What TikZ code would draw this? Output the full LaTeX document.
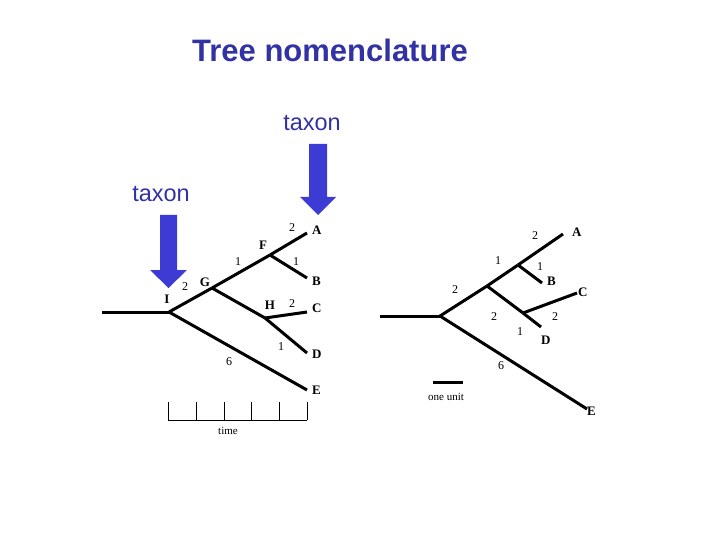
\documentclass[tikz,border=0pt]{standalone}
\usepackage{fontspec}
\setmainfont{Liberation Serif}
\newfontfamily\arialfont{Liberation Sans}
\usepackage{tikz}
\usetikzlibrary{positioning}
\definecolor{titleblue}{RGB}{50,50,165}
\definecolor{arrowblue}{RGB}{60,60,212}
\begin{document}
\begin{tikzpicture}[
    x=1pt, y=-1pt,
    branch/.style={line width=3pt},
    tick/.style={line width=0.8pt},
    leaf/.style={font=\fontsize{13}{15}\selectfont\bfseries, anchor=west, inner sep=0pt},
    inner/.style={font=\fontsize{13}{15}\selectfont\bfseries, inner sep=0pt},
    len/.style={font=\fontsize{12}{14}\selectfont, inner sep=0pt},
    small/.style={font=\fontsize{11}{13}\selectfont, inner sep=0pt},
    taxon/.style={font=\arialfont\fontsize{23.5}{26}\selectfont, text=titleblue, inner sep=0pt}
]
\useasboundingbox (0,0) rectangle (720,540);

\node[font=\arialfont\bfseries\fontsize{31}{34}\selectfont, text=titleblue, inner sep=0pt] (title) at (330,50) {Tree nomenclature};
\node[taxon] (taxontop) at (312,123) {taxon};
\node[taxon] (taxonleft) at (161,194) {taxon};

\fill[arrowblue] (309,144) -- (327,144) -- (327,197) -- (336,197) -- (318,215) -- (300,197) -- (309,197) -- cycle;
\fill[arrowblue] (160,215) -- (177,215) -- (177,270) -- (187,270) -- (168.5,288) -- (150,270) -- (160,270) -- cycle;

% left tree
\coordinate (lroot) at (102,312);
\coordinate (I) at (169,312);
\coordinate (G) at (212,288);
\coordinate (F) at (270,255);
\coordinate (H) at (265,318);
\coordinate (A) at (307,233);
\coordinate (B) at (307,278);
\coordinate (C) at (307,312);
\coordinate (D) at (307,353);
\coordinate (E) at (307,390);

\draw[branch] (lroot) -- (I);
\draw[branch] (I) -- (G);
\draw[branch] (G) -- (F);
\draw[branch] (F) -- (A);
\draw[branch] (F) -- (B);
\draw[branch] (G) -- (H);
\draw[branch] (H) -- (C);
\draw[branch] (H) -- (D);
\draw[branch] (I) -- (E);

\node[leaf] (labA) at (312,230) {A};
\node[leaf] (labB) at (312,281) {B};
\node[leaf] (labC) at (312,308) {C};
\node[leaf] (labD) at (312,354) {D};
\node[leaf] (labE) at (312,390) {E};
\node[inner] (labI) at (167,299) {I};
\node[inner] (labG) at (205,282) {G};
\node[inner] (labF) at (263,245) {F};
\node[inner] (labH) at (270,305) {H};

\node[len] (lFA) at (292,228) {2};
\node[len] (lFB) at (296,262) {1};
\node[len] (lGF) at (238,262) {1};
\node[len] (lIG) at (185,287) {2};
\node[len] (lHC) at (292,304) {2};
\node[len] (lHD) at (281,347) {1};
\node[len] (lIE) at (229,362) {6};

% time scale
\coordinate (t0) at (168,420);
\coordinate (t5) at (307,420);
\draw[tick] (t0) -- (t5);
\foreach \x in {168,196,224,251,279,307}
    \draw[tick] (\x,420) -- (\x,402);
\node[small] (time) at (228,431) {time};

% right tree
\coordinate (rroot) at (380,316);
\coordinate (rI) at (440,316);
\coordinate (rG) at (487,286);
\coordinate (rF) at (518,265);
\coordinate (rH) at (523,313);
\coordinate (rA) at (563,234);
\coordinate (rB) at (542,283);
\coordinate (rC) at (577,293);
\coordinate (rD) at (541,327);
\coordinate (rE) at (587,409);

\draw[branch] (rroot) -- (rI);
\draw[branch] (rI) -- (rG);
\draw[branch] (rG) -- (rF);
\draw[branch] (rF) -- (rA);
\draw[branch] (rF) -- (rB);
\draw[branch] (rG) -- (rH);
\draw[branch] (rH) -- (rC);
\draw[branch] (rH) -- (rD);
\draw[branch] (rI) -- (rE);

\node[leaf] (rlabA) at (572,232) {A};
\node[leaf] (rlabB) at (547,281) {B};
\node[leaf] (rlabC) at (578,292) {C};
\node[leaf] (rlabD) at (541,340) {D};
\node[leaf] (rlabE) at (587,411) {E};

\node[len] (rFA) at (535,236) {2};
\node[len] (rFB) at (540,267) {1};
\node[len] (rGF) at (498,261) {1};
\node[len] (rIG) at (455,290) {2};
\node[len] (rGH) at (494,317) {2};
\node[len] (rHC) at (555,317) {2};
\node[len] (rHD) at (520,332) {1};
\node[len] (rIE) at (501,366) {6};

% scale bar
\coordinate (u0) at (433,382);
\coordinate (u1) at (463,382);
\draw[branch] (u0) -- (u1);
\node[small] (unit) at (446,397) {one unit};

\end{tikzpicture}
\end{document}
